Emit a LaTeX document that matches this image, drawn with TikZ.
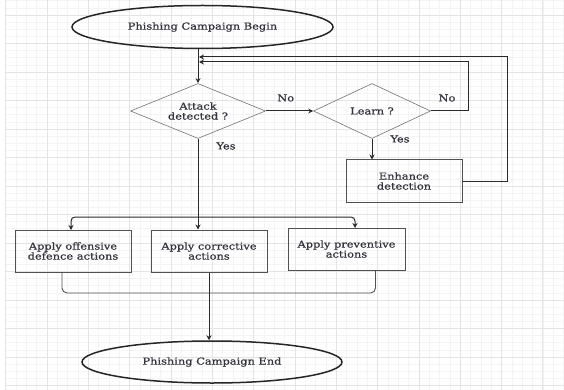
\documentclass[tikz,border=0pt]{standalone}
\usepackage{fontspec}
\setmainfont[FakeStretch=1.2,FakeBold=0.8]{DejaVu Serif}
\usetikzlibrary{shapes.geometric,arrows.meta}

\definecolor{gridminor}{HTML}{F4F4F4}
\definecolor{gridmajor}{HTML}{E4E4E4}
\definecolor{ink}{HTML}{2A2A2A}
\definecolor{boxline}{HTML}{505050}
\definecolor{txt}{HTML}{34343E}

\begin{document}
\begin{tikzpicture}[x=1pt,y=-1pt,
  every node/.style={font=\fontsize{9.5}{10}\selectfont, text=txt},
  term/.style={ellipse, draw=black!85, line width=1.5pt, inner sep=0pt,
    minimum width=261pt, minimum height=43pt},
  decision/.style={diamond, draw=boxline!80, line width=0.6pt, inner sep=0pt,
    align=center},
  proc/.style={rectangle, draw=boxline, line width=1pt, inner sep=0pt,
    minimum width=116pt, minimum height=42pt, align=center},
  flow/.style={draw=ink, line width=1pt},
  arr/.style={flow, -{Stealth[length=5pt,width=5pt]}},
  lbl/.style={inner sep=0pt}
]
% canvas and background grid
\useasboundingbox (0,0) rectangle (564,390);
\fill[white] (0,0) rectangle (564,390);
\foreach \i in {0,...,54} {
  \draw[gridminor, line width=0.6pt] ({5.7+10.33*\i},0) -- ({5.7+10.33*\i},390);
}
\foreach \j in {0,...,54} {
  \draw[gridminor, line width=0.6pt] (5.7,{0.75+7.125*\j}) -- (564,{0.75+7.125*\j});
}
\foreach \i in {0,...,13} {
  \draw[gridmajor, line width=0.8pt] ({5.7+41.32*\i},0) -- ({5.7+41.32*\i},390);
}
\foreach \j in {0,...,13} {
  \draw[gridmajor, line width=0.8pt] (5.7,{15+28.5*\j}) -- (564,{15+28.5*\j});
}

% nodes
\node[term] (begin) at (202.5,27) {Phishing Campaign Begin};
\node[decision, minimum width=135pt, minimum height=55pt, aspect=2.45]
  (attack) at (198,111) {Attack\\detected ?};
\node[decision, minimum width=117pt, minimum height=55pt, aspect=2.13]
  (learn) at (372,111) {Learn ?};
\node[proc] (enhance) at (404,181) {Enhance\\detection};
\node[proc] (offensive) at (73,251) {Apply offensive\\defence actions};
\node[proc] (corrective) at (209,251) {Apply corrective\\actions};
\node[proc, minimum width=117pt] (preventive) at (346.5,249) {Apply preventive\\actions};
\node[term, minimum width=260pt, minimum height=42pt] (end) at (212,362) {Phishing Campaign End};

% joints of the loop-back lines
\coordinate (fbA) at (199,57);
\coordinate (fbB) at (199,62);

% main flow
\draw[arr] (attack.north |- begin.south) -- (attack.north);
\draw[arr] (attack.east) -- (learn.west)
  node[lbl, pos=0.42, above=9pt] {No};
\draw[arr] (learn.south) -- (learn.south |- enhance.north);
\draw[arr] (learn.east) -- (468,111) -- (468,62) -- (fbB);
\draw[arr] (enhance.east) -- (507,181) -- (507,57) -- (fbA);
\node[lbl] at (447,98) {No};
\node[lbl] at (400,139) {Yes};
\node[lbl] at (226,146) {Yes};

% fan-out to the three actions
\draw[arr] (attack.south) -- (attack.south |- corrective.north);
\draw[flow, rounded corners=4pt, {Stealth[length=5pt,width=5pt]}-{Stealth[length=5pt,width=5pt]}]
  (71,230) -- (71,217) -- (355,217) -- (355,228);

% merge and end
\draw[flow, line width=0.9pt, draw=boxline, rounded corners=5pt]
  (62,272) -- (62,293) -- (375.5,293) -- (375.5,270);
\draw[arr] (corrective.south) -- (corrective.south |- end.north);
\end{tikzpicture}
\end{document}
